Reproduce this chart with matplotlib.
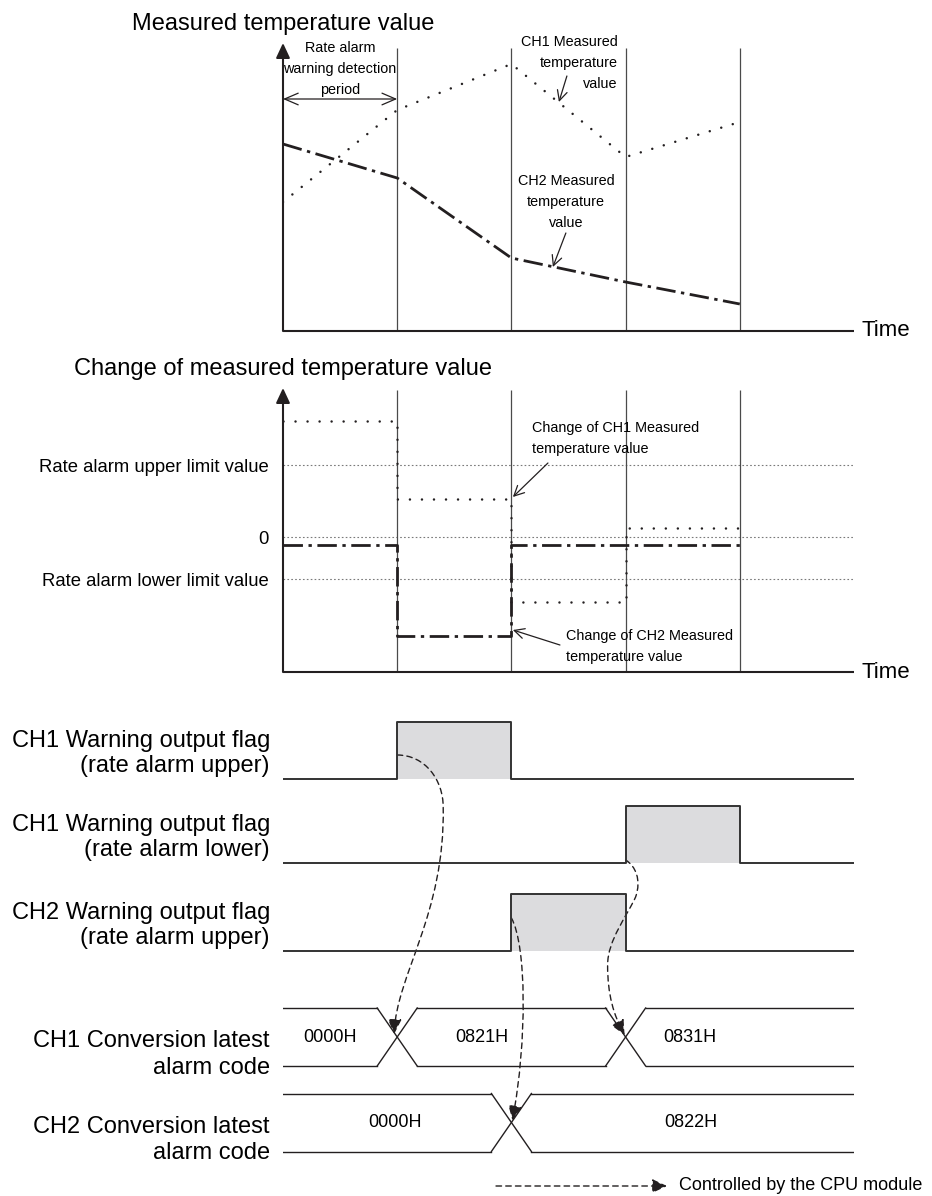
import matplotlib.pyplot as plt
import numpy as np
from matplotlib.patches import FancyArrowPatch
from matplotlib.path import Path

plt.rcParams["font.family"] = ["Liberation Sans", "DejaVu Sans"]
NOTE_SIZE = 10.4

# ======================
# Data
# ======================

periods = [0, 1, 2, 3, 4]   # sampling instants of the rate alarm detection
t_end = 5

ch1_measured = [129, 221, 267, 174, 209]
ch2_measured = [187, 153, 73, 49, 27]

ch1_change = [116, 38, -65, 9]
ch2_change = [-8, -99, -8, -8]
rate_upper = 72
rate_lower = -42
limit_values = [rate_upper, 0, rate_lower]
limit_labels = ["Rate alarm upper limit value", "0", "Rate alarm lower limit value"]

flag_names = [
    "CH1 Warning output flag\n(rate alarm upper)",
    "CH1 Warning output flag\n(rate alarm lower)",
    "CH2 Warning output flag\n(rate alarm upper)",
]
flag_states = [
    [0, 1, 0, 0, 0],
    [0, 0, 0, 1, 0],
    [0, 0, 1, 0, 0],
]

code_names = ["CH1 Conversion latest\nalarm code", "CH2 Conversion latest\nalarm code"]
code_values = [
    ["0000H", "0821H", "0821H", "0831H", "0831H"],
    ["0000H", "0000H", "0822H", "0822H", "0822H"],
]
code_label_t = [[0.41, 1.74, 3.56], [0.98, 3.57]]

# ======================
# Layout
# ======================

W, H = 932, 1196
X0, X1 = 283, 854
PX_T = (X1 - X0) / t_end
INK = "#231f20"
GRID = "#4a4a4a"
FILL = "#dcdcde"
DOTS = (0, (0.01, 4.8))
DASHDOT = (0, (7, 2, 1.2, 2))
LINK = (0, (4, 3))


def rect(top, bottom):
    return [X0 / W, 1 - bottom / H, (X1 - X0) / W, (bottom - top) / H]


def dt(px):
    return px / PX_T


def draw_frame(ax, y0, y1, line_top, title):
    ax.vlines(periods[1:], y0, line_top, color=GRID, lw=0.9)
    ax.plot([0, t_end], [y0, y0], color=INK, lw=1.5, clip_on=False,
            solid_capstyle="butt")
    ax.annotate("", xy=(0, y1), xytext=(0, y0),
                arrowprops=dict(arrowstyle="-|>,head_length=0.6,head_width=0.28",
                                color=INK, lw=1.5, shrinkA=0, shrinkB=0,
                                mutation_scale=15))
    ax.text(t_end + dt(8), y0, "Time", fontsize=16, ha="left", va="center")
    ax.annotate(title, xy=(0, y1), xytext=(0, 19 * 0.72), textcoords="offset points",
                ha="center", va="center", fontsize=17)


def small_note(ax, text, xytext, ha, tip, tail):
    ax.text(xytext[0], xytext[1], text, ha=ha, va="center", fontsize=NOTE_SIZE,
            linespacing=1.62)
    ax.annotate("", xy=tip, xytext=tail,
                arrowprops=dict(arrowstyle="->,head_length=0.6,head_width=0.3",
                                color=INK, lw=0.9, shrinkA=0, shrinkB=0,
                                mutation_scale=12))


fig = plt.figure(figsize=(W / 100, H / 100), dpi=100)

# ---- Measured temperature value
ax = fig.add_axes(rect(43, 331))
ax.set_xlim(0, t_end)
ax.set_ylim(0, 288)
ax.axis("off")
draw_frame(ax, 0, 288, 283, "Measured temperature value")
ax.plot(periods, ch1_measured, color=INK, lw=1.8, ls=DOTS, dash_capstyle="round")
ax.plot(periods, ch2_measured, color=INK, lw=2.0, ls=DASHDOT)
ax.annotate("", xy=(0, 232), xytext=(1, 232),
            arrowprops=dict(arrowstyle="<->,head_length=0.7,head_width=0.3",
                            color=INK, lw=0.9, shrinkA=0, shrinkB=0,
                            mutation_scale=14))
ax.text(0.5, 262, "Rate alarm\nwarning detection\nperiod", ha="center", va="center",
        fontsize=NOTE_SIZE, linespacing=1.62)
small_note(ax, "CH1 Measured\ntemperature\nvalue", (2.93, 268), "right",
           tip=(2.416, 229), tail=(2.486, 255))
small_note(ax, "CH2 Measured\ntemperature\nvalue", (2.477, 129), "center",
           tip=(2.363, 64), tail=(2.477, 98))

# ---- Change of measured temperature value
ax2 = fig.add_axes(rect(388, 672))
ax2.set_xlim(0, t_end)
ax2.set_ylim(-135, 149)
for s in ax2.spines.values():
    s.set_visible(False)
ax2.set_xticks([])
ax2.set_yticks(limit_values, limit_labels, fontsize=13.3)
ax2.tick_params(axis="y", length=0, pad=10.5)
ax2.hlines(limit_values, 0, t_end, color="#7a7a7a", lw=0.8, linestyles=(0, (1.5, 2)))
draw_frame(ax2, -135, 149, 147, "Change of measured temperature value")
ax2.plot(periods, ch1_change + ch1_change[-1:], drawstyle="steps-post",
         color=INK, lw=1.8, ls=DOTS, dash_capstyle="round")
ax2.plot(periods, ch2_change + ch2_change[-1:], drawstyle="steps-post",
         color=INK, lw=2.0, ls=DASHDOT)
small_note(ax2, "Change of CH1 Measured\ntemperature value", (2.18, 98.5), "left",
           tip=(2.013, 40), tail=(2.32, 74))
small_note(ax2, "Change of CH2 Measured\ntemperature value", (2.477, -109.5), "left",
           tip=(2.013, -93), tail=(2.425, -108))

# ---- Warning flags and alarm codes
ax3 = fig.add_axes(rect(690, 1196))
ax3.set_xlim(0, t_end)
ax3.set_ylim(1196, 690)
ax3.axis("off")

edges = periods + [t_end]
flag_base = [779, 863, 951]
FLAG_H = 57
rise_t = []
for name, states, base in zip(flag_names, flag_states, flag_base):
    level = base - FLAG_H * np.array(states + states[-1:])
    ax3.fill_between(edges, base, level, step="post", color=FILL, lw=0)
    ax3.step(edges, level, where="post", color="#333333", lw=1.4)
    ax3.annotate(name, xy=(0, base - FLAG_H / 2), xytext=(-9.4, -2.2),
                 textcoords="offset points", ha="right", va="center",
                 fontsize=17, linespacing=1.19)
    rise_t.append(states.index(1))

bus_mid = [1037, 1122.5]
BUS_H = 29
XW = dt(20)
cross_t = []
for name, codes, mid, label_t in zip(code_names, code_values, bus_mid, code_label_t):
    changes = [i for i in range(1, len(codes)) if codes[i] != codes[i - 1]]
    bounds = [0] + changes + [t_end]
    starts = [0] + changes
    for a, b in zip(bounds[:-1], bounds[1:]):
        xa = a + XW if a > 0 else a
        xb = b - XW if b < t_end else b
        ax3.plot([xa, xb], [mid - BUS_H] * 2, color=INK, lw=1.0)
        ax3.plot([xa, xb], [mid + BUS_H] * 2, color=INK, lw=1.0)
    for c in changes:
        ax3.plot([c - XW, c + XW], [mid - BUS_H, mid + BUS_H], color=INK, lw=1.0)
        ax3.plot([c - XW, c + XW], [mid + BUS_H, mid - BUS_H], color=INK, lw=1.0)
    for s, lt in zip(starts, label_t):
        ax3.text(lt, mid, codes[s], ha="center", va="center", fontsize=13)
    ax3.annotate(name, xy=(0, mid + BUS_H / 2), xytext=(-9.4, -2.2),
                 textcoords="offset points", ha="right", va="center",
                 fontsize=17, linespacing=1.26)
    cross_t.append(changes)


def link(verts):
    codes = [Path.MOVETO] + [Path.CURVE4] * (len(verts) - 1)
    arrow = FancyArrowPatch(path=Path(verts, codes),
                            arrowstyle="-|>,head_length=0.6,head_width=0.28",
                            mutation_scale=15, color=INK, lw=1.0, ls=LINK)
    ax3.add_patch(arrow)


# CH1 upper flag -> CH1 code 0821H
r, c = rise_t[0], cross_t[0][0]
link([(r, 755), (r + dt(28), 755), (r + dt(46), 780), (r + dt(46), 807),
      (r + dt(48), 915), (c + dt(-1), 975), (c - dt(3), bus_mid[0] - 3)])
# CH2 upper flag -> CH2 code 0822H
r, c = rise_t[2], cross_t[1][0]
link([(r, 918), (r + dt(15), 945), (c + dt(16), 1040), (c + dt(1), bus_mid[1] - 2)])
# CH1 lower flag -> CH1 code 0831H
r, c = rise_t[1], cross_t[0][1]
link([(r, 860), (r + dt(10), 866), (r + dt(16), 880), (r + dt(10), 897),
      (r + dt(2), 915), (c - dt(18), 940), (c - dt(18), 965),
      (c - dt(18), 995), (c - dt(12), 1015), (c - dt(1), bus_mid[0] - 2)])

# legend
ax3.annotate("", xy=(dt(667 - X0), 1186), xytext=(dt(496 - X0), 1186),
             arrowprops=dict(arrowstyle="-|>,head_length=0.6,head_width=0.28",
                             color=INK, lw=1.0, ls=LINK, shrinkA=0, shrinkB=0,
                             mutation_scale=15))
ax3.text(dt(679 - X0), 1186, "Controlled by the CPU module", ha="left",
         va="center", fontsize=13)

fig.savefig("out.png", dpi=100)
